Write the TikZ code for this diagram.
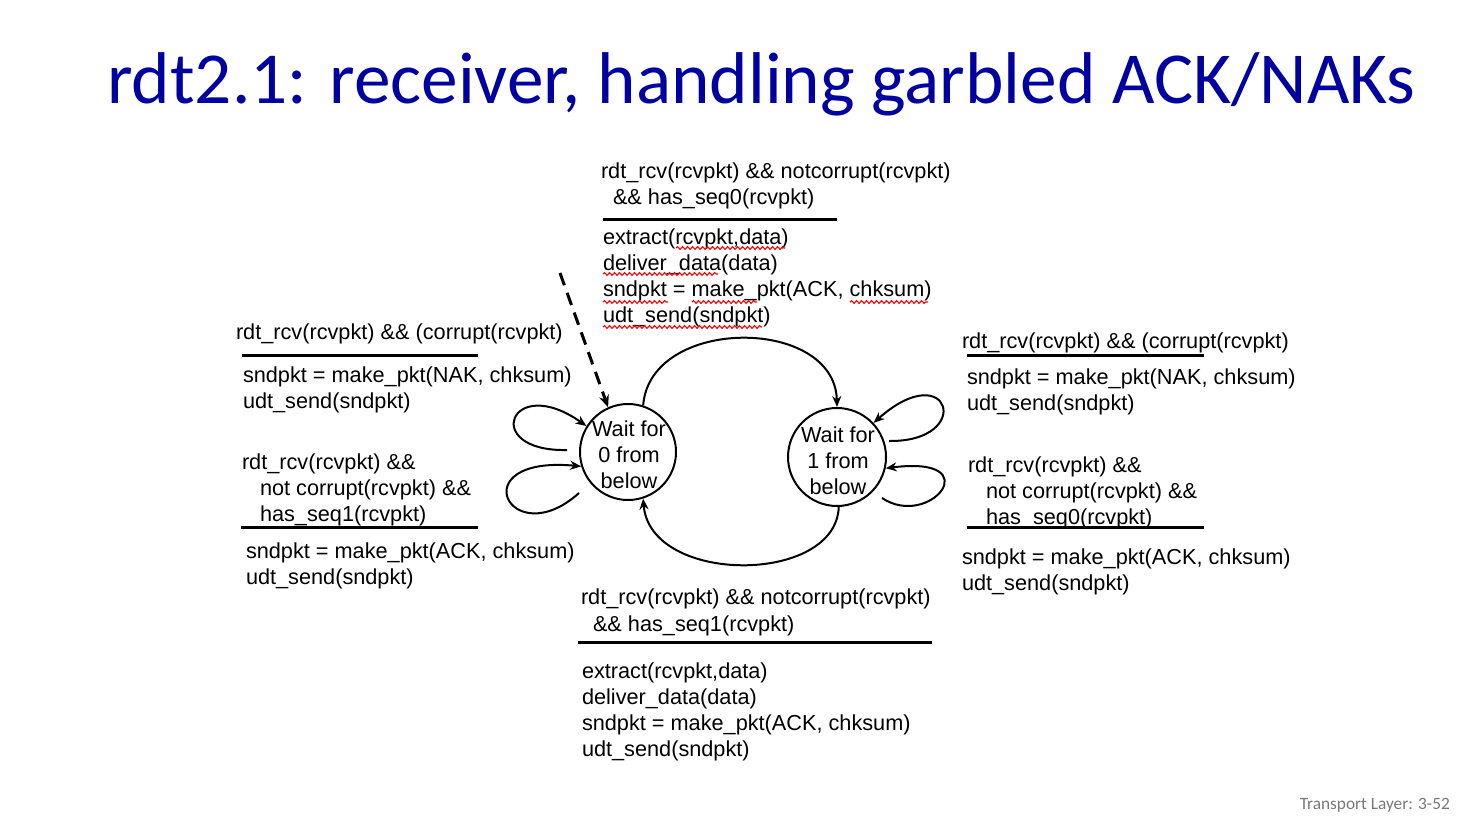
\documentclass[tikz,border=0pt]{standalone}
\usepackage{fontspec}
\setmainfont{Liberation Sans}
\newfontfamily\titlefont{Carlito}
\usetikzlibrary{arrows.meta,decorations.pathmorphing}
\definecolor{titleblue}{RGB}{0,0,160}
\definecolor{footgray}{RGB}{120,120,120}
\tikzset{
  txt/.style={anchor=north west, inner sep=0pt, outer sep=0pt, align=left, font=\fontsize{21.7}{26}\selectfont},
  state/.style={circle, draw, line width=2pt, minimum size=#1, inner sep=0pt},
  statetext/.style={align=center, inner sep=0pt, font=\fontsize{21.7}{26}\selectfont},
  rule/.style={line width=3pt},
  edge/.style={line width=2pt, -{Stealth[length=11pt,width=9pt]}},
  loopedge/.style={line width=2pt, -{Stealth[length=11pt,width=9pt]}},
  spell/.style={red, line width=1.1pt, decorate, decoration={snake, segment length=5pt, amplitude=1.4pt}},
}
\begin{document}
\begin{tikzpicture}[x=1pt,y=-1pt]
\useasboundingbox (0,0) rectangle (1482,824);
\fill[white] (0,0) rectangle (1482,824);

% title
\node[anchor=base west, inner sep=0pt, text=titleblue, font=\titlefont\fontsize{73.3}{80}\selectfont] (title) at (107,103) {rdt2.1: receiver, handling garbled ACK/NAKs};

% footer
\node[anchor=east, inner sep=0pt, text=footgray, font=\titlefont\fontsize{17.3}{20}\selectfont] (footer) at (1450,805) {Transport Layer: 3-52};

% states
\node[state=96pt] (s0) at (628,452) {};
\node[statetext] (t0) at (629,455) {Wait for\\0 from\\below};
\node[state=98pt] (s1) at (837,457) {};
\node[statetext] (t1) at (838,461) {Wait for\\1 from\\below};

% top transition text
\node[txt] (topc) at (601,162.5) {rdt\_rcv(rcvpkt) \&\& notcorrupt(rcvpkt)\\\hspace*{12pt}\&\& has\_seq0(rcvpkt)};
\draw[rule] (603,219) -- (837,219);
\node[txt] (topa) at (603,228.5) {extract(rcvpkt,data)\\deliver\_data(data)\\sndpkt = make\_pkt(ACK, chksum)\\udt\_send(sndpkt)};
% spell-check squiggles
\draw[spell] (676,248) -- (785,248);
\draw[spell] (603,274) -- (718,274);
\draw[spell] (603,302) -- (668,302);
\draw[spell] (692,302) -- (757,302);
\draw[spell] (850,302) -- (928,302);
\draw[spell] (603,327) -- (762,327);

% left block 1
\node[txt] (l1c) at (236,323.5) {rdt\_rcv(rcvpkt) \&\& (corrupt(rcvpkt)};
\draw[rule] (242,355) -- (478,355);
\node[txt] (l1a) at (243,366.5) {sndpkt = make\_pkt(NAK, chksum)\\udt\_send(sndpkt)};

% left block 2
\node[txt] (l2c) at (242,453.5) {rdt\_rcv(rcvpkt) \&\&\\\hspace*{18pt}not corrupt(rcvpkt) \&\&\\\hspace*{18pt}has\_seq1(rcvpkt)};
\draw[rule] (241,527) -- (478,527);
\node[txt] (l2a) at (246,542.5) {sndpkt = make\_pkt(ACK, chksum)\\udt\_send(sndpkt)};

% right block 1
\node[txt] (r1c) at (962,332.5) {rdt\_rcv(rcvpkt) \&\& (corrupt(rcvpkt)};
\draw[rule] (967,355) -- (1204,355);
\node[txt] (r1a) at (967,368.5) {sndpkt = make\_pkt(NAK, chksum)\\udt\_send(sndpkt)};

% right block 2
\node[txt] (r2c) at (968,456.5) {rdt\_rcv(rcvpkt) \&\&\\\hspace*{18pt}not corrupt(rcvpkt) \&\&\\\hspace*{18pt}has\_seq0(rcvpkt)};
\draw[rule] (967,527) -- (1204,527);
\node[txt] (r2a) at (962,548.5) {sndpkt = make\_pkt(ACK, chksum)\\udt\_send(sndpkt)};

% bottom block
\node[txt, font=\fontsize{21.7}{27}\selectfont] (botc) at (581,588.5) {rdt\_rcv(rcvpkt) \&\& notcorrupt(rcvpkt)\\\hspace*{12pt}\&\& has\_seq1(rcvpkt)};
\draw[rule] (578,642) -- (932,642);
\node[txt] (bota) at (582,662.5) {extract(rcvpkt,data)\\deliver\_data(data)\\sndpkt = make\_pkt(ACK, chksum)\\udt\_send(sndpkt)};

% transitions between states
\draw[edge] (s0.72) .. controls (650,316) and (835,316) .. (s1.90);
\draw[edge] (s1.272) .. controls (836,585) and (650,585) .. (s0.288);

% initial dashed arrow
\coordinate (d0) at (560,273);
\draw[line width=3pt, dash pattern=on 13pt off 8pt, -{Stealth[length=12pt,width=10pt]}] (d0) -- (s0.114);

% self loops
\coordinate (l0a) at (567,450);
\draw[loopedge] (l0a) .. controls (480,452) and (510,372) .. (s0.148);
\coordinate (l0b) at (579,493);
\draw[loopedge] (l0b) .. controls (510,555) and (460,455) .. (s0.197);
\coordinate (l1a0) at (889,441);
\draw[loopedge] (l1a0) .. controls (975,442) and (950,355) .. (s1.43);
\coordinate (l1b0) at (882,498);
\draw[loopedge] (l1b0) .. controls (930,530) and (990,455) .. (s1.347);
\end{tikzpicture}
\end{document}
